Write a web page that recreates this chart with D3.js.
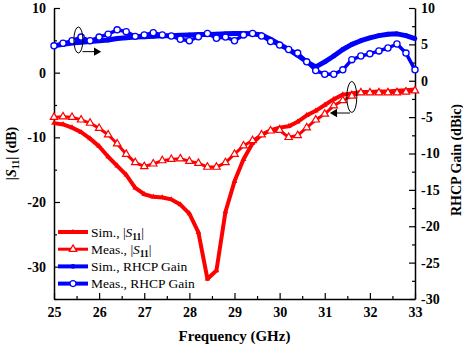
<!DOCTYPE html>
<html><head><meta charset="utf-8">
<script src="https://cdn.jsdelivr.net/npm/d3@7"></script>
<style>body{margin:0;background:#fff}svg{display:block}</style>
</head><body><svg id="c" width="463" height="348"></svg>
<script>
// ---- data ----
const freq = d3.range(41).map(i => +(25 + i * 0.2).toFixed(1));
const simS11 = [-7.8,-8.0,-8.5,-9.2,-10.2,-11.4,-13.0,-14.4,-15.8,-17.8,-18.8,-19.2,-19.3,-19.6,-20.4,-21.8,-24.7,-31.9,-30.6,-21.5,-16.8,-13.4,-10.9,-9.6,-8.9,-8.5,-8.3,-7.6,-6.6,-5.9,-5.0,-4.1,-3.4,-3.2,-3.0,-3.0,-2.9,-2.9,-2.8,-2.7,-2.6];
const measS11 = [-6.9,-6.8,-6.9,-7.3,-7.8,-8.6,-9.6,-11.0,-12.6,-13.9,-14.5,-14.1,-13.6,-13.4,-13.3,-13.7,-14.0,-14.6,-14.6,-13.9,-12.6,-11.3,-10.5,-9.6,-9.0,-8.9,-10.0,-9.7,-8.5,-7.3,-6.4,-5.1,-4.3,-3.6,-3.1,-3.1,-3.1,-3.1,-3.1,-3.0,-2.8];
const simGain = [4.8,5.0,5.2,5.3,5.4,5.5,5.6,5.8,5.9,6.0,6.05,6.1,6.2,6.2,6.25,6.3,6.35,6.35,6.4,6.45,6.5,6.5,6.45,6.3,5.7,5.0,4.3,3.5,2.6,1.9,2.6,3.4,4.3,5.0,5.5,5.9,6.2,6.4,6.45,6.2,5.8];
const measGain = [4.8,5.15,5.5,6.0,5.5,6.0,6.4,7.0,6.75,6.1,6.3,6.6,6.3,6.15,5.7,5.5,6.05,6.5,5.85,6.0,5.5,6.3,6.5,6.15,5.4,4.9,4.3,3.8,2.6,1.4,0.9,0.9,1.5,2.9,3.4,3.7,4.1,4.5,5.05,3.8,1.5];
const xTicks = [25,26,27,28,29,30,31,32,33];
const leftTicks = [10,0,-10,-20,-30];
const rightTicks = [10,5,0,-5,-10,-15,-20,-25,-30];

const RED = "#ff0000", BLUE = "#0000ff";
const FONT = "'Liberation Serif','Times New Roman',serif";
const svg = d3.select("#c");
const M = {l: 54, r: 415, t: 8, b: 299};
const x = d3.scaleLinear().domain([25, 33]).range([M.l, M.r]);
const yL = d3.scaleLinear().domain([-35, 10]).range([M.b, M.t]);
const yR = d3.scaleLinear().domain([-30, 10]).range([M.b, M.t]);

function styleAxis(g, majorSet, majLen, minLen, dir) {
  g.select(".domain").attr("stroke", "#000").attr("stroke-width", 1.5);
  g.selectAll(".tick line").attr("stroke", "#000").attr("stroke-width", 1.2)
    .each(function (d) {
      const len = majorSet.includes(d) ? majLen : minLen;
      const l = d3.select(this);
      if (dir === "x") l.attr("y2", -len);
      else if (dir === "l") l.attr("x2", len);
      else l.attr("x2", -len);
    });
  g.selectAll(".tick text").attr("font-family", FONT).attr("font-weight", "bold")
    .attr("font-size", 14).attr("fill", "#000");
}

// x axis
const gx = svg.append("g").attr("transform", `translate(0,${M.b})`)
  .call(d3.axisBottom(x).tickValues(d3.range(25, 33.01, 0.5)).tickSizeInner(-5).tickSizeOuter(0)
    .tickPadding(8).tickFormat(d => xTicks.includes(d) ? String(d) : ""));
styleAxis(gx, xTicks, 6, 3, "x");

// left axis
const gl = svg.append("g").attr("transform", `translate(${M.l},0)`)
  .call(d3.axisLeft(yL).tickValues(d3.range(-35, 10.01, 5)).tickSizeInner(-5).tickSizeOuter(0)
    .tickPadding(8).tickFormat(d => leftTicks.includes(d) ? String(d) : ""));
styleAxis(gl, leftTicks, 6, 3, "l");

// right axis
const gr = svg.append("g").attr("transform", `translate(${M.r},0)`)
  .call(d3.axisRight(yR).tickValues(d3.range(-30, 10.01, 2.5)).tickSizeInner(-5).tickSizeOuter(0)
    .tickPadding(6).tickFormat(d => rightTicks.includes(d) ? String(d) : ""));
styleAxis(gr, rightTicks, 6, 3, "r");

// axis titles
svg.append("text").attr("x", (M.l + M.r) / 2).attr("y", 341).attr("text-anchor", "middle")
  .attr("font-family", FONT).attr("font-weight", "bold").attr("font-size", 15).text("Frequency (GHz)");

const yl = svg.append("text").attr("transform", `translate(16,${(M.t + M.b) / 2}) rotate(-90)`)
  .attr("text-anchor", "middle").attr("font-family", FONT).attr("font-weight", "bold").attr("font-size", 14);
yl.append("tspan").text("|");
yl.append("tspan").attr("font-style", "italic").text("S");
yl.append("tspan").attr("font-size", 10).attr("dy", 3).text("11");
yl.append("tspan").attr("dy", -3).text("| (dB)");

svg.append("text").attr("transform", `translate(461,160) rotate(-90)`)
  .attr("text-anchor", "middle").attr("font-family", FONT).attr("font-weight", "bold").attr("font-size", 14)
  .text("RHCP Gain (dBic)");

// ---- series ----
const series = [
  {vals: simGain, y: yR, color: BLUE, lw: 5, sym: d3.symbolCircle, size: 18, fill: BLUE, sw: 0},
  {vals: measGain, y: yR, color: BLUE, lw: 3.5, sym: d3.symbolCircle, size: 30, fill: "#fff", sw: 1.3},
  {vals: simS11, y: yL, color: RED, lw: 4, sym: d3.symbolTriangle, size: 14, fill: RED, sw: 0},
  {vals: measS11, y: yL, color: RED, lw: 3, sym: d3.symbolTriangle, size: 24, fill: "#fff", sw: 1.2}
];
series.forEach(s => {
  const pts = freq.map((f, i) => [f, s.vals[i]]);
  svg.append("path").datum(pts)
    .attr("d", d3.line().x(d => x(d[0])).y(d => s.y(d[1])))
    .attr("fill", "none").attr("stroke", s.color).attr("stroke-width", s.lw).attr("stroke-linejoin", "round");
  svg.append("g").selectAll("path").data(pts).join("path")
    .attr("transform", d => `translate(${x(d[0])},${s.y(d[1])})`)
    .attr("d", d3.symbol().type(s.sym).size(s.size))
    .attr("fill", s.fill).attr("stroke", s.color).attr("stroke-width", s.sw);
});

// ---- annotations ----
const ann = svg.append("g").attr("fill", "none").attr("stroke", "#000").attr("stroke-width", 1);
ann.append("ellipse").attr("cx", x(25.54)).attr("cy", yR(5.6)).attr("rx", 4.5).attr("ry", 13);
ann.append("line").attr("x1", x(25.63)).attr("y1", yR(4.0)).attr("x2", x(25.92)).attr("y2", yR(4.0));
svg.append("path").attr("d", d3.symbol().type(d3.symbolTriangle).size(30))
  .attr("transform", `translate(${x(25.94)},${yR(4.0)}) rotate(90)`).attr("fill", "#000");
ann.append("ellipse").attr("cx", x(31.6)).attr("cy", yL(-3.76)).attr("rx", 5).attr("ry", 15.5);
ann.append("line").attr("x1", x(31.56)).attr("y1", yL(-6.24)).attr("x2", x(31.26)).attr("y2", yL(-6.24));
svg.append("path").attr("d", d3.symbol().type(d3.symbolTriangle).size(30))
  .attr("transform", `translate(${x(31.22)},${yL(-6.24)}) rotate(-90)`).attr("fill", "#000");

// ---- legend ----
const legend = [
  {name: "Sim., ", s11: true, color: RED, sym: d3.symbolTriangle, size: 14, fill: RED, sw: 0, lw: 4},
  {name: "Meas., ", s11: true, color: RED, sym: d3.symbolTriangle, size: 24, fill: "#fff", sw: 1.2, lw: 3},
  {name: "Sim., RHCP Gain", s11: false, color: BLUE, sym: d3.symbolCircle, size: 18, fill: BLUE, sw: 0, lw: 4},
  {name: "Meas., RHCP Gain", s11: false, color: BLUE, sym: d3.symbolCircle, size: 28, fill: "#fff", sw: 1.2, lw: 4}
];
legend.forEach((e, i) => {
  const yy = 232 + i * 17.2;
  svg.append("line").attr("x1", 58).attr("x2", 88).attr("y1", yy).attr("y2", yy)
    .attr("stroke", e.color).attr("stroke-width", e.lw);
  svg.append("path").attr("d", d3.symbol().type(e.sym).size(e.size))
    .attr("transform", `translate(73,${yy})`).attr("fill", e.fill).attr("stroke", e.color).attr("stroke-width", e.sw);
  const t = svg.append("text").attr("x", 91).attr("y", yy + 4.5)
    .attr("font-family", FONT).attr("font-size", 13.5).attr("fill", "#000");
  t.append("tspan").text(e.name);
  if (e.s11) {
    t.append("tspan").text("|");
    t.append("tspan").attr("font-style", "italic").text("S");
    t.append("tspan").attr("font-size", 9.5).attr("font-weight", "bold").attr("dy", 3).text("11");
    t.append("tspan").attr("dy", -3).text("|");
  }
});
</script>
</body></html>
